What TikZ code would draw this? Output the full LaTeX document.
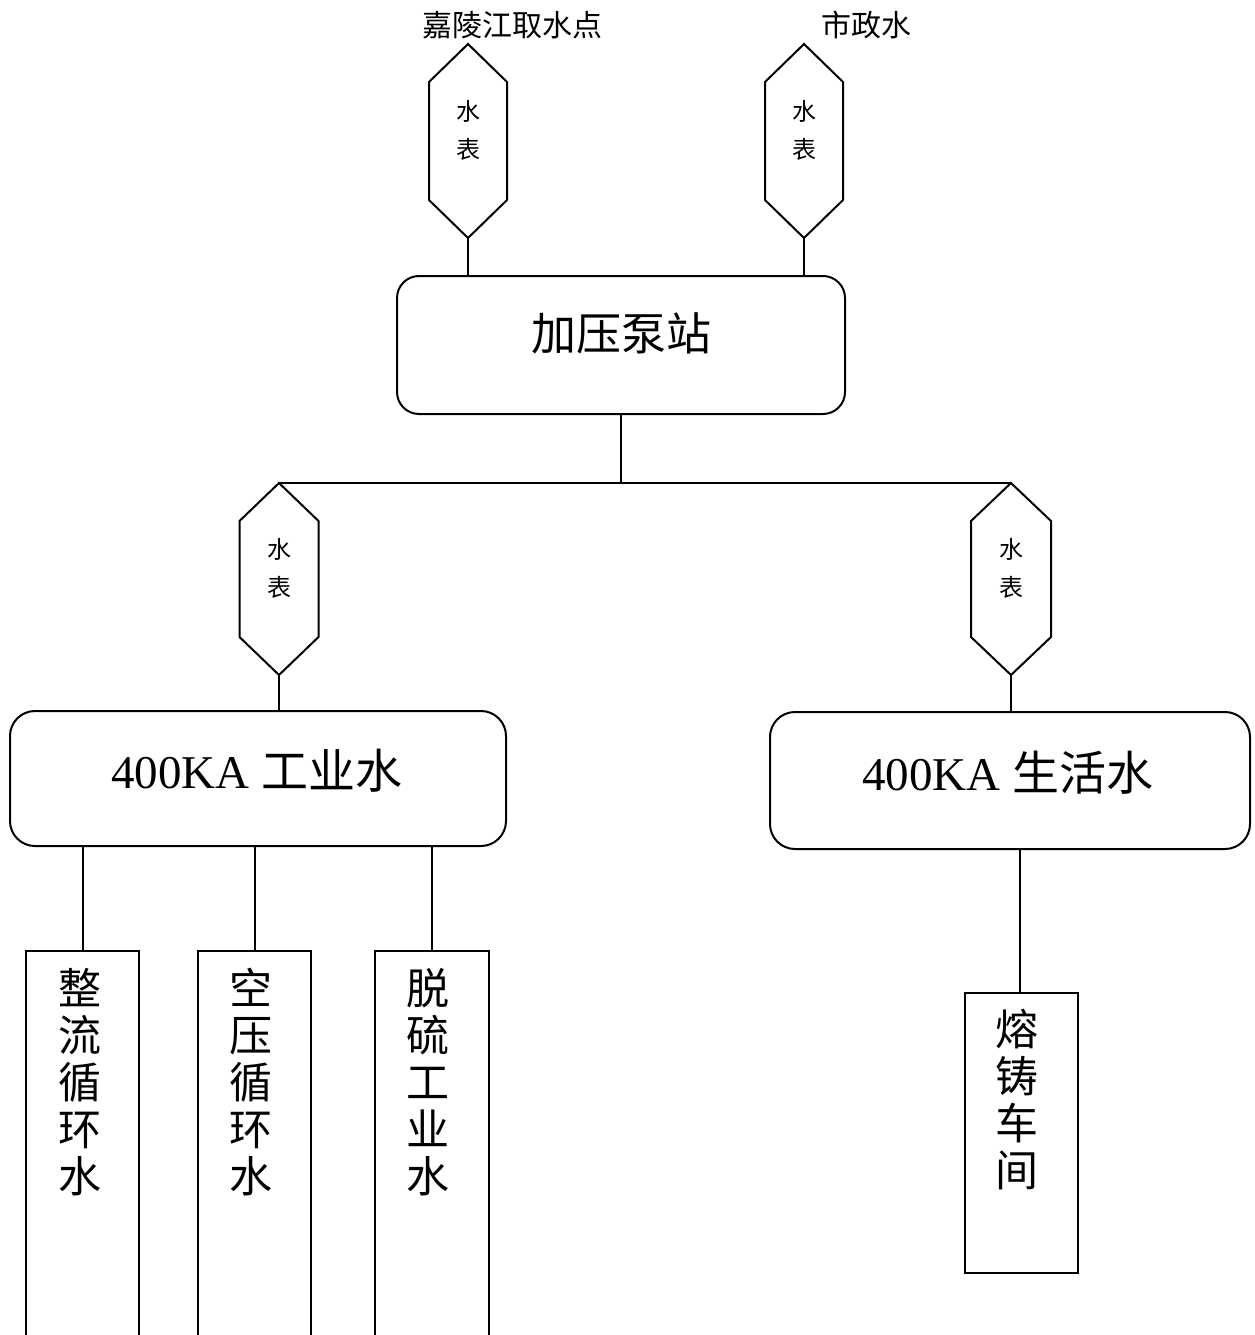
\documentclass[tikz,border=0pt]{standalone}
\usepackage{fontspec}
\setmainfont{Liberation Serif}
\newfontfamily\cjk{Noto Sans CJK SC}
\begin{document}
\begin{tikzpicture}[x=1pt,y=-1pt,line width=2pt,
  rbox/.style={draw,rounded corners=22pt,inner sep=0pt},
  hexbox/.style={inner sep=0pt,minimum width=76pt,minimum height=192pt},
  colbox/.style={draw,inner sep=0pt,minimum width=113pt},
  hextext/.style={font=\cjk\fontsize{24}{38}\selectfont,align=center,inner sep=0pt},
  coltext/.style={font=\cjk\fontsize{43}{47}\selectfont,align=center,inner sep=0pt},
  bigtext/.style={font=\fontsize{45}{50}\selectfont,inner sep=0pt},
  midtext/.style={font=\fontsize{47}{50}\selectfont,inner sep=0pt},
  toptext/.style={font=\cjk\fontsize{30}{34}\selectfont,inner sep=0pt}]
\clip (0,0) rectangle (1254,1335);
\fill[white] (0,0) rectangle (1254,1335);
% top labels
\node[toptext] (l1) at (512,25) {嘉陵江取水点};
\node[toptext] (l2) at (866,25) {市政水};
% hexagons (water meters)
\newcommand{\hexdraw}[1]{%
  \draw (#1.north) -- ([yshift=-38pt]#1.north east) -- ([yshift=38pt]#1.south east)
    -- (#1.south) -- ([yshift=38pt]#1.south west) -- ([yshift=-38pt]#1.north west) -- cycle;}
\node[hexbox] (h1) at (468,141) {};
\node[hexbox] (h2) at (804,141) {};
\node[hexbox,minimum height=190pt,minimum width=77pt] (h3) at (279,579) {};
\node[hexbox,minimum height=190pt,minimum width=78pt] (h4) at (1011,579) {};
\hexdraw{h1}\hexdraw{h2}\hexdraw{h3}\hexdraw{h4}
\node[hextext] (t1) at (468,130) {水\\表};
\node[hextext] (t2) at (804,130) {水\\表};
\node[hextext] (t3) at (279,568) {水\\表};
\node[hextext] (t4) at (1011,568) {水\\表};
% pump station
\node[rbox,minimum width=448pt,minimum height=138pt] (pump) at (621,345) {};
\node[bigtext] (pumpt) at (621,333) {\cjk 加压泵站};
% branch boxes
\node[rbox,rounded corners=25pt,minimum width=496pt,minimum height=135pt] (ind) at (258,778.5) {};
\node[midtext] (indt) at (257,771) {400KA {\cjk 工业水}};
\node[rbox,rounded corners=25pt,minimum width=480pt,minimum height=137pt] (liv) at (1010,780.5) {};
\node[midtext] (livt) at (1008,773) {400KA {\cjk 生活水}};
% columns
\node[colbox,minimum height=394pt] (c1) at (82.5,1148) {};
\node[colbox,minimum height=394pt] (c2) at (254.5,1148) {};
\node[colbox,minimum height=394pt,minimum width=114pt] (c3) at (432,1148) {};
\node[colbox,minimum height=280pt] (c4) at (1021.5,1133) {};
\node[coltext] (ct1) at (80,1082) {整\\流\\循\\环\\水};
\node[coltext] (ct2) at (251,1082) {空\\压\\循\\环\\水};
\node[coltext] (ct3) at (428,1082) {脱\\硫\\工\\业\\水};
\node[coltext] (ct4) at (1017,1100) {熔\\铸\\车\\间};
% connectors
\coordinate (j) at (pump.south |- h3.north);
\draw (h1.south) -- (h1.south |- pump.north);
\draw (h2.south) -- (h2.south |- pump.north);
\draw (pump.south) -- (j);
\draw (h3.north) -- (h4.north);
\draw (h3.south) -- (h3.south |- ind.north);
\draw (h4.south) -- (h4.south |- liv.north);
\draw (c1.north |- ind.south) -- (c1.north);
\draw (c2.north |- ind.south) -- (c2.north);
\draw (c3.north |- ind.south) -- (c3.north);
\draw ([xshift=-2pt]c4.north |- liv.south) -- ([xshift=-2pt]c4.north);
\end{tikzpicture}
\end{document}
